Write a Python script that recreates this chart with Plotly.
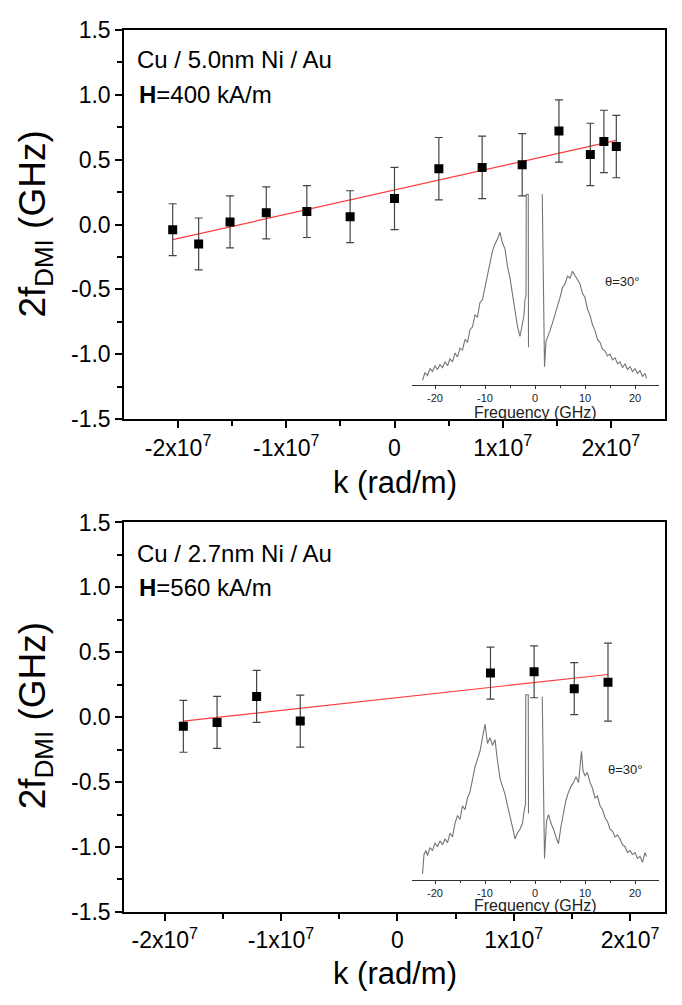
import plotly.graph_objects as go

# ---------------- data ----------------
# top panel: Cu / 5.0nm Ni / Au, H=400 kA/m
k_top = [-2.05e7, -1.81e7, -1.52e7, -1.185e7, -0.81e7, -0.41e7, 0.0, 0.41e7, 0.81e7, 1.18e7, 1.52e7, 1.81e7, 1.935e7, 2.05e7]
f_top = [-0.04, -0.15, 0.02, 0.09, 0.10, 0.06, 0.20, 0.43, 0.44, 0.46, 0.72, 0.54, 0.64, 0.60]
err_top = [0.20, 0.20, 0.20, 0.20, 0.20, 0.20, 0.24, 0.24, 0.24, 0.24, 0.24, 0.24, 0.24, 0.24]
fit_top_k = [-2.05e7, 2.05e7]
fit_top_f = [-0.117, 0.648]

# bottom panel: Cu / 2.7nm Ni / Au, H=560 kA/m
k_bot = [-1.84e7, -1.55e7, -1.21e7, -0.835e7, 0.80e7, 1.175e7, 1.52e7, 1.81e7]
f_bot = [-0.07, -0.04, 0.16, -0.03, 0.34, 0.35, 0.22, 0.27]
err_bot = [0.20, 0.20, 0.20, 0.20, 0.20, 0.20, 0.20, 0.30]
fit_bot_k = [-1.84e7, 1.81e7]
fit_bot_f = [-0.030, 0.329]

# inset spectra (frequency in GHz, intensity in arb. units)
spec_top_f = [-22.5, -22.0, -21.5, -21.0, -20.5, -20.0, -19.5, -19.0, -18.5, -18.0,
              -17.5, -17.0, -16.5, -16.0, -15.5, -15.0, -14.5, -14.0, -13.5, -13.0,
              -12.5, -12.0, -11.5, -11.0, -10.5, -10.0, -9.5, -9.0, -8.5, -8.0,
              -7.5, -7.0, -6.5, -6.0, -5.5, -5.0, -4.5, -4.0, -3.5, -3.0,
              -2.5, -2.2, -2.0, -1.8, -1.75, -1.35, -1.3, None,
              1.45, 1.9, 2.2, 2.5, 3.0, 3.5, 4.0, 4.5, 5.0, 5.5, 6.0, 6.5, 7.0,
              7.5, 8.0, 8.5, 9.0, 9.5, 10.0, 10.5, 11.0, 11.5, 12.0, 12.5, 13.0,
              13.5, 14.0, 14.5, 15.0, 15.5, 16.0, 16.5, 17.0, 17.5, 18.0, 18.5,
              19.0, 19.5, 20.0, 20.5, 21.0, 21.5, 22.0, 22.3]
spec_top_i = [5, 13, 10, 17, 14, 20, 16, 21, 18, 24,
              20, 27, 24, 33, 29, 38, 36, 47, 44, 57,
              60, 72, 70, 85, 88, 100, 112, 126, 138, 145,
              150, 157, 146, 140, 122, 110, 92, 75, 60, 50,
              62, 72, 88, 92, 196, 196, 39, None,
              196, 19, 45, 50, 56, 64, 72, 82, 90, 100, 104, 112, 110,
              117, 113, 108, 104, 94, 90, 78, 72, 62, 56, 47, 44,
              37, 35, 30, 32, 26, 28, 22, 24, 18, 22, 16,
              19, 14, 17, 12, 15, 9, 12, 7]

spec_bot_f = [-22.5, -22.2, -21.8, -21.5, -21.0, -20.5, -20.0, -19.5, -19.0, -18.5,
              -18.0, -17.5, -17.0, -16.5, -16.0, -15.5, -15.0, -14.5, -14.0, -13.5,
              -13.0, -12.5, -12.0, -11.5, -11.0, -10.5, -10.0, -9.5, -9.0, -8.5,
              -8.0, -7.5, -7.0, -6.5, -6.0, -5.5, -5.0, -4.5, -4.0, -3.5,
              -3.0, -2.5, -2.2, -1.9, -1.85, -1.35, -1.3, None,
              1.45, 1.9, 2.3, 2.7, 3.2, 3.7, 4.2, 4.7, 5.2, 5.7, 6.2, 6.7, 7.2,
              7.7, 8.2, 8.7, 9.0, 9.3, 9.6, 10.0, 10.5, 11.0, 11.5, 12.0, 12.5,
              13.0, 13.5, 14.0, 14.5, 15.0, 15.5, 16.0, 16.5, 17.0, 17.5, 18.0,
              18.5, 19.0, 19.5, 20.0, 20.5, 21.0, 21.5, 22.0, 22.3]
spec_bot_i = [6, 26, 30, 25, 33, 30, 38, 34, 40, 36,
              42, 38, 48, 44, 58, 66, 62, 76, 72, 84,
              90, 102, 116, 124, 132, 146, 160, 140, 146, 138,
              144, 122, 104, 96, 88, 76, 66, 54, 42, 48,
              52, 58, 70, 78, 190, 190, 68, None,
              188, 22, 60, 67, 58, 52, 44, 37, 55, 70, 82, 90, 96,
              100, 106, 100, 118, 132, 112, 107, 110, 100, 94, 84, 86,
              76, 72, 64, 60, 52, 50, 44, 46, 42, 36, 34,
              28, 30, 26, 28, 22, 24, 18, 28, 24]

k_tickvals = [-2e7, -1e7, 0, 1e7, 2e7]
k_ticktext = ["-2x10<sup>7</sup>", "-1x10<sup>7</sup>", "0", "1x10<sup>7</sup>", "2x10<sup>7</sup>"]
f_tickvals = [-1.5, -1.0, -0.5, 0.0, 0.5, 1.0, 1.5]
f_ticktext = ["-1.5", "-1.0", "-0.5", "0.0", "0.5", "1.0", "1.5"]
spec_tickvals = [-20, -10, 0, 10, 20]
spec_ticktext = ["-20", "-10", "0", "10", "20"]

# ---------------- layout helpers ----------------
# the HTML body keeps its default 8px margin, so the figure is drawn 8px in
W, H = 666, 989
OFF = 8
def px(x):
    return (x - OFF) / W
def py(y):
    return 1 - (y - OFF) / H

FONT = "Liberation Sans, Arial, sans-serif"

fig = go.Figure()

def add_panel(k, f, err, fk, ff, xa, ya):
    fig.add_trace(go.Scatter(x=fk, y=ff, mode="lines",
                             line=dict(color="#ff3b3b", width=1.2),
                             xaxis=xa, yaxis=ya, showlegend=False, hoverinfo="skip"))
    fig.add_trace(go.Scatter(x=k, y=f, mode="markers",
                             marker=dict(symbol="square", size=9, color="black"),
                             error_y=dict(type="data", array=err, color="#444444",
                                          thickness=1.2, width=4),
                             xaxis=xa, yaxis=ya, showlegend=False))

def add_spec(fr, inten, xa, ya):
    fig.add_trace(go.Scatter(x=fr, y=inten, mode="lines",
                             line=dict(color="#747474", width=1.1),
                             connectgaps=False,
                             xaxis=xa, yaxis=ya, showlegend=False, hoverinfo="skip"))

add_spec(spec_top_f, spec_top_i, "x2", "y2")
add_panel(k_top, f_top, err_top, fit_top_k, fit_top_f, "x", "y")
add_spec(spec_bot_f, spec_bot_i, "x4", "y4")
add_panel(k_bot, f_bot, err_bot, fit_bot_k, fit_bot_f, "x3", "y3")

TICKSIZE = 23

def main_x(rng, anchor):
    return dict(domain=[px(124), px(665)], range=rng, anchor=anchor,
                showline=True, linecolor="black", linewidth=1.5, mirror=True,
                ticks="outside", ticklen=7, tickwidth=1.5, tickcolor="black",
                tickmode="array", tickvals=k_tickvals, ticktext=k_ticktext,
                minor=dict(tickmode="array", tickvals=[-1.5e7, -0.5e7, 0.5e7, 1.5e7],
                           ticks="outside", ticklen=5, tickwidth=1.5, tickcolor="black"),
                tickfont=dict(family=FONT, size=TICKSIZE, color="black"),
                showgrid=False, zeroline=False)

def main_y(top, bottom, anchor):
    return dict(domain=[py(bottom), py(top)], range=[-1.5, 1.5], anchor=anchor,
                showline=True, linecolor="black", linewidth=1.5, mirror=True,
                ticks="outside", ticklen=7, tickwidth=1.5, tickcolor="black",
                tickmode="array", tickvals=f_tickvals, ticktext=f_ticktext,
                minor=dict(tickmode="array", tickvals=[-1.25, -0.75, -0.25, 0.25, 0.75, 1.25],
                           ticks="outside", ticklen=5, tickwidth=1.5, tickcolor="black"),
                tickfont=dict(family=FONT, size=TICKSIZE, color="black"),
                showgrid=False, zeroline=False)

def inset_x(anchor):
    return dict(domain=[px(412), px(659)], range=[-24.6, 24.8], anchor=anchor,
                showline=True, linecolor="#333333", linewidth=1,
                ticks="outside", ticklen=3, tickwidth=1, tickcolor="#333333",
                tickmode="array", tickvals=spec_tickvals, ticktext=spec_ticktext,
                minor=dict(tickmode="array", tickvals=[-15, -5, 5, 15],
                           ticks="outside", ticklen=2, tickwidth=1, tickcolor="#333333"),
                tickfont=dict(family=FONT, size=11, color="#222222"),
                showgrid=False, zeroline=False)

def inset_y(top, bottom, anchor):
    return dict(domain=[py(bottom), py(top)], range=[0, 200], anchor=anchor,
                visible=False, showgrid=False, zeroline=False)

fig.update_layout(
    width=W, height=H,
    margin=dict(l=0, r=0, t=0, b=0),
    paper_bgcolor="white", plot_bgcolor="rgba(0,0,0,0)",
    font=dict(family=FONT, color="black"),
    xaxis=main_x([-2.5e7, 2.5e7], "y"),
    yaxis=main_y(17, 417, "x"),
    xaxis2=inset_x("y2"),
    yaxis2=inset_y(182, 382, "x2"),
    xaxis3=main_x([-2.35e7, 2.3e7], "y3"),
    yaxis3=main_y(523, 923, "x3"),
    xaxis4=inset_x("y4"),
    yaxis4=inset_y(690, 890, "x4"),
)

ann = []
def label(text, x, y, size, xanchor="left", angle=0, color="black", pad=1):
    ann.append(dict(text=text, x=px(x), y=py(y), xref="paper", yref="paper",
                    xanchor=xanchor, yanchor="middle", showarrow=False, textangle=angle,
                    borderpad=pad,
                    font=dict(family=FONT, size=size, color=color)))

label("Cu / 5.0nm Ni / Au", 135, 48, 24)
label("<b>H</b>=400 kA/m", 137, 83, 24)
label("θ=30°", 622, 276, 13, xanchor="center", color="#222222")
label("Frequency (GHz)", 535, 410, 16, xanchor="center", color="#222222", pad=0)
label("k (rad/m)", 395, 482, 31, xanchor="center")
label("2f<sub>DMI</sub> (GHz)", 35, 217, 37, xanchor="center", angle=-90)

label("Cu / 2.7nm Ni / Au", 135, 555, 24)
label("<b>H</b>=560 kA/m", 137, 590, 24)
label("θ=30°", 625, 777, 13, xanchor="center", color="#222222")
label("Frequency (GHz)", 535, 916, 16, xanchor="center", color="#222222", pad=0)
label("k (rad/m)", 395, 986, 31, xanchor="center")
label("2f<sub>DMI</sub> (GHz)", 35, 722, 37, xanchor="center", angle=-90)

fig.update_layout(annotations=ann)

fig.write_html("out.html")
